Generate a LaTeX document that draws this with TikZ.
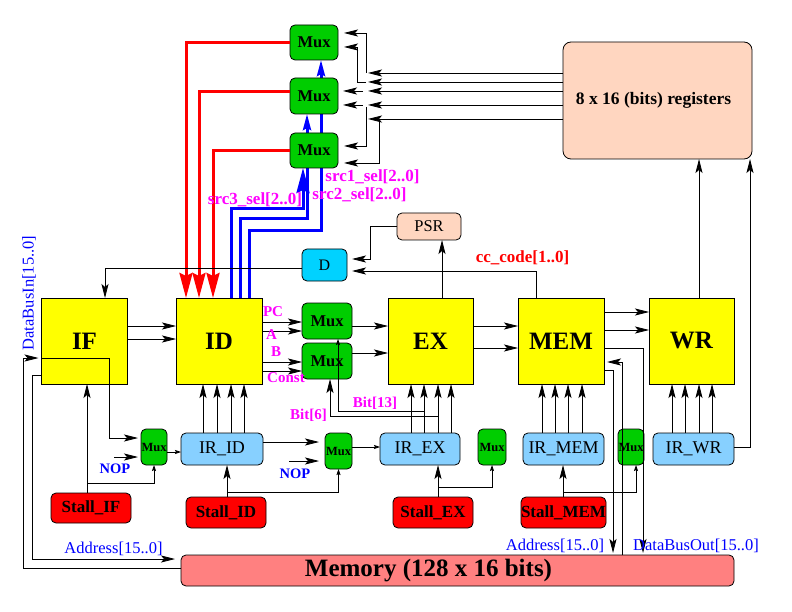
\documentclass[tikz,border=0pt]{standalone}
\usepackage{fontspec}
\setmainfont{Liberation Serif}
\usetikzlibrary{arrows.meta,backgrounds}
\definecolor{stY}{RGB}{255,255,0}
\definecolor{muxG}{RGB}{0,205,0}
\definecolor{irB}{RGB}{135,208,255}
\definecolor{dC}{RGB}{0,210,255}
\definecolor{peach}{RGB}{255,214,192}
\definecolor{memR}{RGB}{255,128,128}
\definecolor{stallR}{RGB}{255,0,0}
\definecolor{labM}{RGB}{255,0,255}
\definecolor{labB}{RGB}{0,0,255}
\begin{document}
\begin{tikzpicture}[x=1pt,y=-1pt,
  blk/.style={draw=black,line width=0.8pt,rounded corners=5pt,inner sep=0pt,outer sep=0pt},
  stage/.style={draw=black,line width=0.8pt,fill=stY,inner sep=0pt,outer sep=0pt,minimum width=86pt,minimum height=86pt,font=\fontsize{25}{30}\selectfont\bfseries},
  muxbig/.style={blk,fill=muxG,font=\fontsize{16.5}{18}\selectfont\bfseries},
  muxsmall/.style={blk,fill=muxG,minimum width=27pt,minimum height=36pt,font=\fontsize{12.5}{14}\selectfont\bfseries},
  irbox/.style={blk,fill=irB,minimum width=81pt,minimum height=32pt,font=\fontsize{18}{20}\selectfont},
  stallbox/.style={blk,fill=stallR,minimum width=80pt,minimum height=31pt,font=\fontsize{17}{19}\selectfont\bfseries},
  arr/.style={line width=0.8pt,-{Stealth[length=14pt,width=7pt,inset=3pt]}},
  arrs/.style={line width=0.8pt,-{Stealth[length=6pt,width=4pt,inset=1pt]}},
  redln/.style={draw=red,line width=3pt,-{Stealth[length=25pt,width=13pt,inset=3pt]}},
  blueln/.style={draw=blue,line width=3pt},
  lblB/.style={text=labB,inner sep=0pt,font=\fontsize{16.5}{18}\selectfont},
  lblM/.style={text=labM,inner sep=0pt,font=\fontsize{15}{17}\selectfont\bfseries},
  lblS/.style={text=labM,inner sep=0pt,font=\fontsize{17}{19}\selectfont\bfseries},
  lblN/.style={text=labB,inner sep=0pt,font=\fontsize{14.5}{16}\selectfont\bfseries}
]
\useasboundingbox (0,0) rectangle (792,612);

% ---------- nodes ----------
\node[muxbig,minimum width=48pt,minimum height=35pt] (muxA) at (314,42.5) {Mux};
\node[muxbig,minimum width=48pt,minimum height=36pt] (muxB) at (314,96) {Mux};
\node[muxbig,minimum width=48pt,minimum height=35pt] (muxC) at (314,150.5) {Mux};
\node[blk,fill=peach,rounded corners=8pt,minimum width=189pt,minimum height=117pt,font=\fontsize{17.5}{19}\selectfont\bfseries] (regs) at (657.5,100.5) {\hspace*{-8pt}\raisebox{-4pt}{8 x 16 (bits) registers}};

\node[stage] (IF) at (84.5,341) {IF};
\node[stage] (ID) at (219,341) {ID};
\node[stage,minimum width=85pt] (EX) at (430.5,341) {EX};
\node[stage] (MEM) at (561,341) {MEM};
\node[stage,minimum width=85pt] (WR) at (691.5,341) {WR};

\node[muxbig,minimum width=50pt,minimum height=36pt] (muxU) at (327,321) {Mux};
\node[muxbig,minimum width=50pt,minimum height=36pt] (muxL) at (327,361) {Mux};
\node[blk,fill=dC,minimum width=45pt,minimum height=32pt,font=\fontsize{16}{18}\selectfont] (D) at (324.5,265) {D};
\node[blk,fill=peach,minimum width=64pt,minimum height=27pt,font=\fontsize{16.5}{18}\selectfont] (PSR) at (429,226.5) {PSR};

\node[muxsmall,minimum width=26pt] (muxIF) at (154,447) {Mux};
\node[irbox,minimum width=82pt] (IRID) at (222,449) {IR\_ID};
\node[muxsmall] (muxID) at (338.5,451) {Mux};
\node[irbox,minimum width=80pt] (IREX) at (420,449) {IR\_EX};
\node[muxsmall,minimum width=28pt] (muxEX) at (492,447) {Mux};
\node[irbox] (IRMEM) at (563.5,449) {IR\_MEM};
\node[muxsmall,minimum width=26pt] (muxMEM) at (631,447) {Mux};
\node[irbox] (IRWR) at (693.5,449) {IR\_WR};

\node[stallbox,minimum height=30pt] (stallIF) at (91,508) {Stall\_IF};
\node[stallbox] (stallID) at (226,512.5) {Stall\_ID};
\node[stallbox] (stallEX) at (433,512.5) {Stall\_EX};
\node[stallbox,minimum width=81pt] (stallMEM) at (563.5,512.5) {Stall\_MEM};

\node[blk,fill=memR,minimum width=553pt,minimum height=31pt,font=\fontsize{25}{28}\selectfont\bfseries] (memory) at (457.5,570.5) {\hspace*{-58pt}Memory (128 x 16 bits)};

% ---------- background connectors (behind muxes) ----------
\begin{scope}[on background layer]
\draw[blueln,-{Stealth[length=25pt,width=13pt,inset=3pt]}] (ID.north -| 231,0) |- (303,209) -- (muxC.south -| 303,0);
\draw[blueln,-{Stealth[length=16pt,width=8pt,inset=2pt]}] (ID.north -| 240,0) |- (307,219) -- (muxB.south -| 307,0);
\draw[blueln,-{Stealth[length=16pt,width=8pt,inset=2pt]}] (ID.north -| 249,0) |- (321,231) -- (muxA.south -| 321,0);
\end{scope}

% ---------- red lines ----------
\draw[redln] (muxA.west) -| (ID.north -| 186,0);
\draw[redln] (muxB.west |- 0,92) -| (ID.north -| 199,0);
\draw[redln] (muxC.west) -| (ID.north -| 213,0);

% ---------- register file to muxes ----------
\coordinate (r1) at (368,73);
\coordinate (r2) at (368,82);
\coordinate (r3) at (368,91);
\coordinate (r4) at (368,105);
\coordinate (r5) at (368,119);
\coordinate (k1) at (366,73);
\coordinate (k2) at (366,82);
\coordinate (k3) at (363,91);
\coordinate (k4) at (363,105);
\coordinate (k4b) at (366,107);
\coordinate (k5) at (379,119);
\draw[arr] (regs.west |- r1) -- (r1);
\draw[arr] (regs.west |- r2) -- (r2);
\draw[arr] (regs.west |- r3) -- (r3);
\draw[arr] (regs.west |- r4) -- (r4);
\draw[arr] (regs.west |- r5) -- (r5);
\draw[arr,shorten >=6pt] (k1) |- (muxA.east |- 0,33);
\draw[arr,shorten >=6pt] (k2) -- (357,82) |- (muxA.east |- 0,47);
\draw[arr,shorten >=5pt] (k3) -- (muxB.east |- k3);
\draw[arr,shorten >=5pt] (k4) -- (muxB.east |- k4);
\draw[arr,shorten >=6pt] (k4b) |- (muxC.east |- 0,146);
\draw[arr,shorten >=6pt] (k5) |- (muxC.east |- 0,163);

% ---------- pipeline ----------
\draw[arr] (IF.east |- 0,326) -- (ID.west |- 0,326);
\draw[arr] (IF.east |- 0,339) -- (ID.west |- 0,339);
\draw[arr] (ID.east |- 0,322) -- (muxU.west |- 0,322);
\draw[arr] (ID.east |- 0,331) -- (muxU.west |- 0,331);
\draw[arr] (ID.east |- 0,362) -- (muxL.west |- 0,362);
\draw[arr] (ID.east |- 0,371) -- (muxL.west |- 0,371);
\draw[arr] (muxU.east |- 0,326) -- (EX.west |- 0,326);
\draw[arr] (muxL.east |- 0,353) -- (EX.west |- 0,353);
\draw[arr] (EX.east |- 0,326) -- (MEM.west |- 0,326);
\draw[arr] (EX.east |- 0,348) -- (MEM.west |- 0,348);
\draw[arr] (MEM.east |- 0,312) -- (WR.west |- 0,312);
\draw[arr] (MEM.east |- 0,330) -- (WR.west |- 0,330);

\draw[arr] (EX.north -| 442,0) -- (PSR.south -| 442,0);
\draw[arr,shorten >=5pt] (PSR.west) -| (370,259) -- (D.east |- 0,259);
\draw[arr,shorten >=5pt] (MEM.north -| 536,0) |- (D.east |- 0,271);
\draw[arr] (D.west |- 0,268) -| (IF.north -| 105,0);

% ---------- IR registers to stages ----------
\foreach \x in {203,217,231,244} \draw[arr] (IRID.north -| \x,0) -- (ID.south -| \x,0);
\foreach \x in {411,424,438,451} \draw[arr] (IREX.north -| \x,0) -- (EX.south -| \x,0);
\foreach \x in {542,555,568,582} \draw[arr] (IRMEM.north -| \x,0) -- (MEM.south -| \x,0);
\foreach \x in {672,685,699,712} \draw[arr] (IRWR.north -| \x,0) -- (WR.south -| \x,0);

\coordinate (bit13) at (424,411);
\coordinate (bit6) at (438,416);
\draw[arrs] (bit13) -| (muxU.south -| 338,0);
\draw[arr] (bit6) -| (muxL.south -| 330,0);

% ---------- left side / memory ----------
\draw[arr,shorten >=3pt] (memory.west |- 0,568) -| (23,358) -- (IF.west |- 0,358);
\draw[arr,shorten >=6pt] (IF.west |- 0,375) -| (32,559) -- (memory.west |- 0,559);
\draw[arr,shorten >=3pt] (IF.west |- 0,358) -| (109,438) -- (muxIF.west |- 0,438);

\coordinate (nop1) at (114,457);
\coordinate (nop2) at (289,461);
\draw[arr,shorten >=3pt] (nop1) -- (muxIF.west |- nop1);
\draw[arrs] (muxIF.east |- 0,452) -- (IRID.west |- 0,452);
\draw[arr] (stallIF.north -| 87,0) -- (IF.south -| 87,0);
\coordinate (sIF) at (87,483);
\draw[arrs] (sIF) -| (muxIF.south);

\draw[arr,shorten >=6pt] (IRID.east |- 0,442) -- (muxID.west |- 0,442);
\draw[arr,shorten >=6pt] (nop2) -- (muxID.west |- nop2);
\draw[arrs] (muxID.east |- 0,447) -- (IREX.west |- 0,447);
\draw[arr] (stallID.north -| 227,0) -- (IRID.south -| 227,0);
\coordinate (sID) at (227,492);
\draw[arrs] (sID) -| (muxID.south);

\draw[arr] (stallEX.north -| 438,0) -- (IREX.south -| 438,0);
\coordinate (sEX) at (438,487);
\draw[arrs] (sEX) -| (muxEX.south);

\draw[arr] (stallMEM.north -| 563,0) -- (IRMEM.south -| 563,0);
\coordinate (sMEM) at (563,492);
\draw[arrs] (sMEM) -| (muxMEM.south -| 636,0);

\draw[arr] (IRWR.east |- 0,447) -| (regs.south -| 750,0);
\draw[arr] (WR.north -| 699,0) -- (regs.south -| 699,0);

\draw[arr,shorten >=2pt] (MEM.east |- 0,348) -| (memory.north -| 643,0);
\draw[arr,shorten >=2pt] (MEM.east |- 0,370) -| (memory.north -| 613,0);
\draw[arr,shorten >=3pt] (memory.north -| 622,0) |- (MEM.east |- 0,362);

% ---------- labels ----------
\node[lblB] (lAddr1) at (113.5,549) {Address[15..0]};
\node[lblB] (lAddr2) at (555,546) {Address[15..0]};
\node[lblB] (lDBO) at (696,546) {DataBusOut[15..0]};
\node[lblB,rotate=90] (lDBI) at (29,293) {DataBusIn[15..0]};
\node[lblN] (lNop1) at (115,469) {NOP};
\node[lblN] (lNop2) at (295,474) {NOP};
\node[lblM] (lPC) at (273,312) {PC};
\node[lblM] (lA) at (271.5,335) {A};
\node[lblM] (lB) at (276,352) {B};
\node[lblM] (lConst) at (286,378) {Const};
\node[lblM] (lBit13) at (375,403) {Bit[13]};
\node[lblM] (lBit6) at (308.5,415) {Bit[6]};
\node[lblS] (lsrc1) at (372.5,177) {src1\_sel[2..0]};
\node[lblS] (lsrc2) at (359.5,195) {src2\_sel[2..0]};
\node[lblS] (lsrc3) at (255,200) {src3\_sel[2..0]};
\node[lblS,text=red] (lcc) at (522.5,258) {cc\_code[1..0]};
\end{tikzpicture}
\end{document}
